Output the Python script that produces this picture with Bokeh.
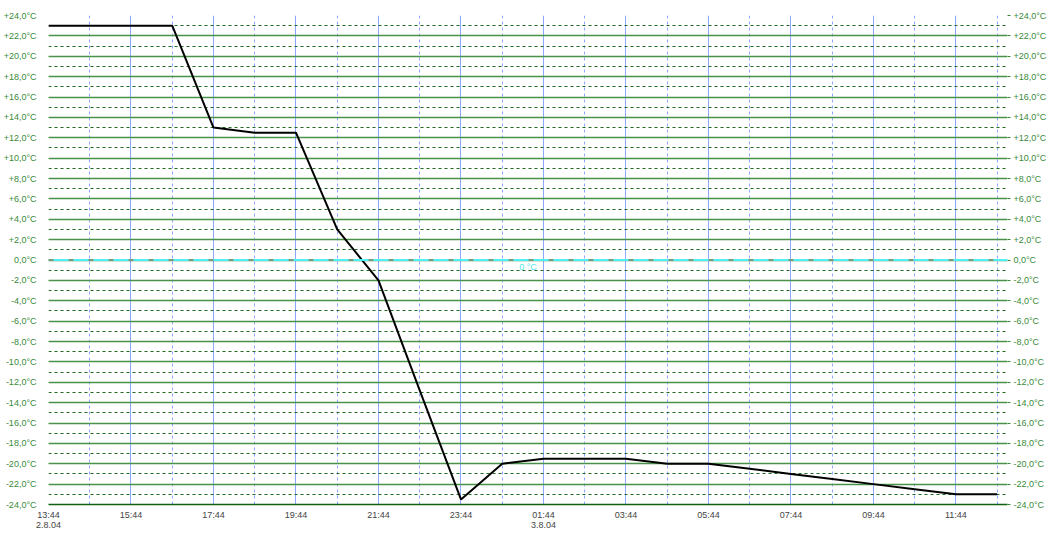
from bokeh.plotting import figure
from bokeh.models import (Range1d, LinearAxis, FixedTicker, SingleIntervalTicker,
                          CustomJSTickFormatter, Label, Span)
from bokeh.embed import file_html
from bokeh.resources import INLINE

# ---- data ----
times = ["13:44", "14:44", "15:44", "16:44", "17:44", "18:44", "19:44", "20:44",
         "21:44", "22:44", "23:44", "00:44", "01:44", "02:44", "03:44", "04:44",
         "05:44", "06:44", "07:44", "08:44", "09:44", "10:44", "11:44", "12:44"]
temps = [23.0, 23.0, 23.0, 23.0, 13.0, 12.5, 12.5, 3.0,
         -2.0, -12.8, -23.5, -20.0, -19.5, -19.5, -19.5, -20.0,
         -20.0, -20.5, -21.0, -21.5, -22.0, -22.5, -23.0, -23.0]
x_tick_labels = ["13:44\n2.8.04", "15:44", "17:44", "19:44", "21:44", "23:44",
                 "01:44\n3.8.04", "03:44", "05:44", "07:44", "09:44", "11:44"]
zero_label = "0 °C"

def hours_since(t, t0="13:44"):
    h, m = map(int, t.split(":"))
    h0, m0 = map(int, t0.split(":"))
    return (((h * 60 + m) - (h0 * 60 + m0)) % 1440) / 60.0

xs = [hours_since(t) for t in times]
x_major = [2 * i for i in range(len(x_tick_labels))]
x_minor = [2 * i + 1 for i in range(len(x_tick_labels))]

X_END = 23.25
p = figure(width=1049, height=533, output_backend="svg", toolbar_location=None,
           x_range=Range1d(0, X_END), y_range=Range1d(-24, 24),
           min_border_left=48, min_border_right=38, min_border_top=15,
           min_border_bottom=20, background_fill_color="white",
           border_fill_color="white", outline_line_color=None)
p.title.visible = False

FONT = "Liberation Sans"
GREEN_TXT = "#3a8a3a"
FS = "9px"

yticker = SingleIntervalTicker(interval=2, num_minor_ticks=2)
yfmt = CustomJSTickFormatter(code="""
const s = tick.toFixed(1).replace('.', ',') + '°C';
return (tick > 0 ? '+' : '') + s;
""")

p.yaxis.axis_label = None
p.xaxis.axis_label = None
p.yaxis.ticker = yticker
p.yaxis.formatter = yfmt
p.yaxis.axis_line_color = None
p.yaxis.major_tick_line_color = None
p.yaxis.minor_tick_line_color = None
p.yaxis.major_label_standoff = 6
p.yaxis.major_label_text_font = FONT
p.yaxis.major_label_text_font_size = FS
p.yaxis.major_label_text_color = GREEN_TXT

ry = LinearAxis(ticker=yticker, formatter=yfmt, axis_label=None)
ry.axis_line_color = None
ry.major_tick_line_color = "#3a8a3a"
ry.major_tick_in = 0
ry.major_tick_out = 3
ry.minor_tick_line_color = None
ry.major_label_standoff = 2
ry.major_label_text_font = FONT
ry.major_label_text_font_size = FS
ry.major_label_text_color = GREEN_TXT
p.add_layout(ry, "right")

xticker = FixedTicker(ticks=x_major, minor_ticks=x_minor)
p.xaxis.ticker = xticker
p.xaxis.formatter = CustomJSTickFormatter(args=dict(labels=x_tick_labels),
                                          code="return labels[Math.round(tick/2)] || '';")
p.xaxis.axis_line_color = "#0f600f"
p.xaxis.axis_line_width = 1.5
p.xaxis.major_tick_line_color = None
p.xaxis.minor_tick_line_color = None
p.xaxis.major_tick_out = 0
p.xaxis.major_tick_in = 0
p.xaxis.major_label_standoff = 1
p.xaxis.major_label_text_font = FONT
p.xaxis.major_label_text_font_size = FS
p.xaxis.major_label_text_color = "#444444"
p.xaxis.major_label_text_line_height = 1.05

p.ygrid.ticker = yticker
p.ygrid.grid_line_color = "#4a924a"
p.ygrid.grid_line_width = 1.5
p.ygrid.minor_grid_line_color = "#1f6a1f"
p.ygrid.minor_grid_line_dash = "3 3"
p.ygrid.minor_grid_line_width = 1

p.xgrid.ticker = xticker
p.xgrid.grid_line_color = "#8fa8ff"
p.xgrid.grid_line_width = 1
p.xgrid.minor_grid_line_color = "#8fa8ff"
p.xgrid.minor_grid_line_dash = "3 3"
p.xgrid.minor_grid_line_width = 1

p.add_layout(Span(location=0, dimension="width", line_color="#4ff0f4", line_width=2))
p.add_layout(Span(location=0, dimension="width", line_color="#7a9a80", line_width=2,
                  line_dash="5 15"))
p.add_layout(Label(x=X_END / 2, y=0, text=zero_label, text_align="center",
                   text_baseline="top", y_offset=-2, text_color="#4ee8ee",
                   text_font=FONT, text_font_size=FS))

p.line(xs, temps, line_color="black", line_width=2)

open("out.html", "w").write(file_html(p, INLINE))
